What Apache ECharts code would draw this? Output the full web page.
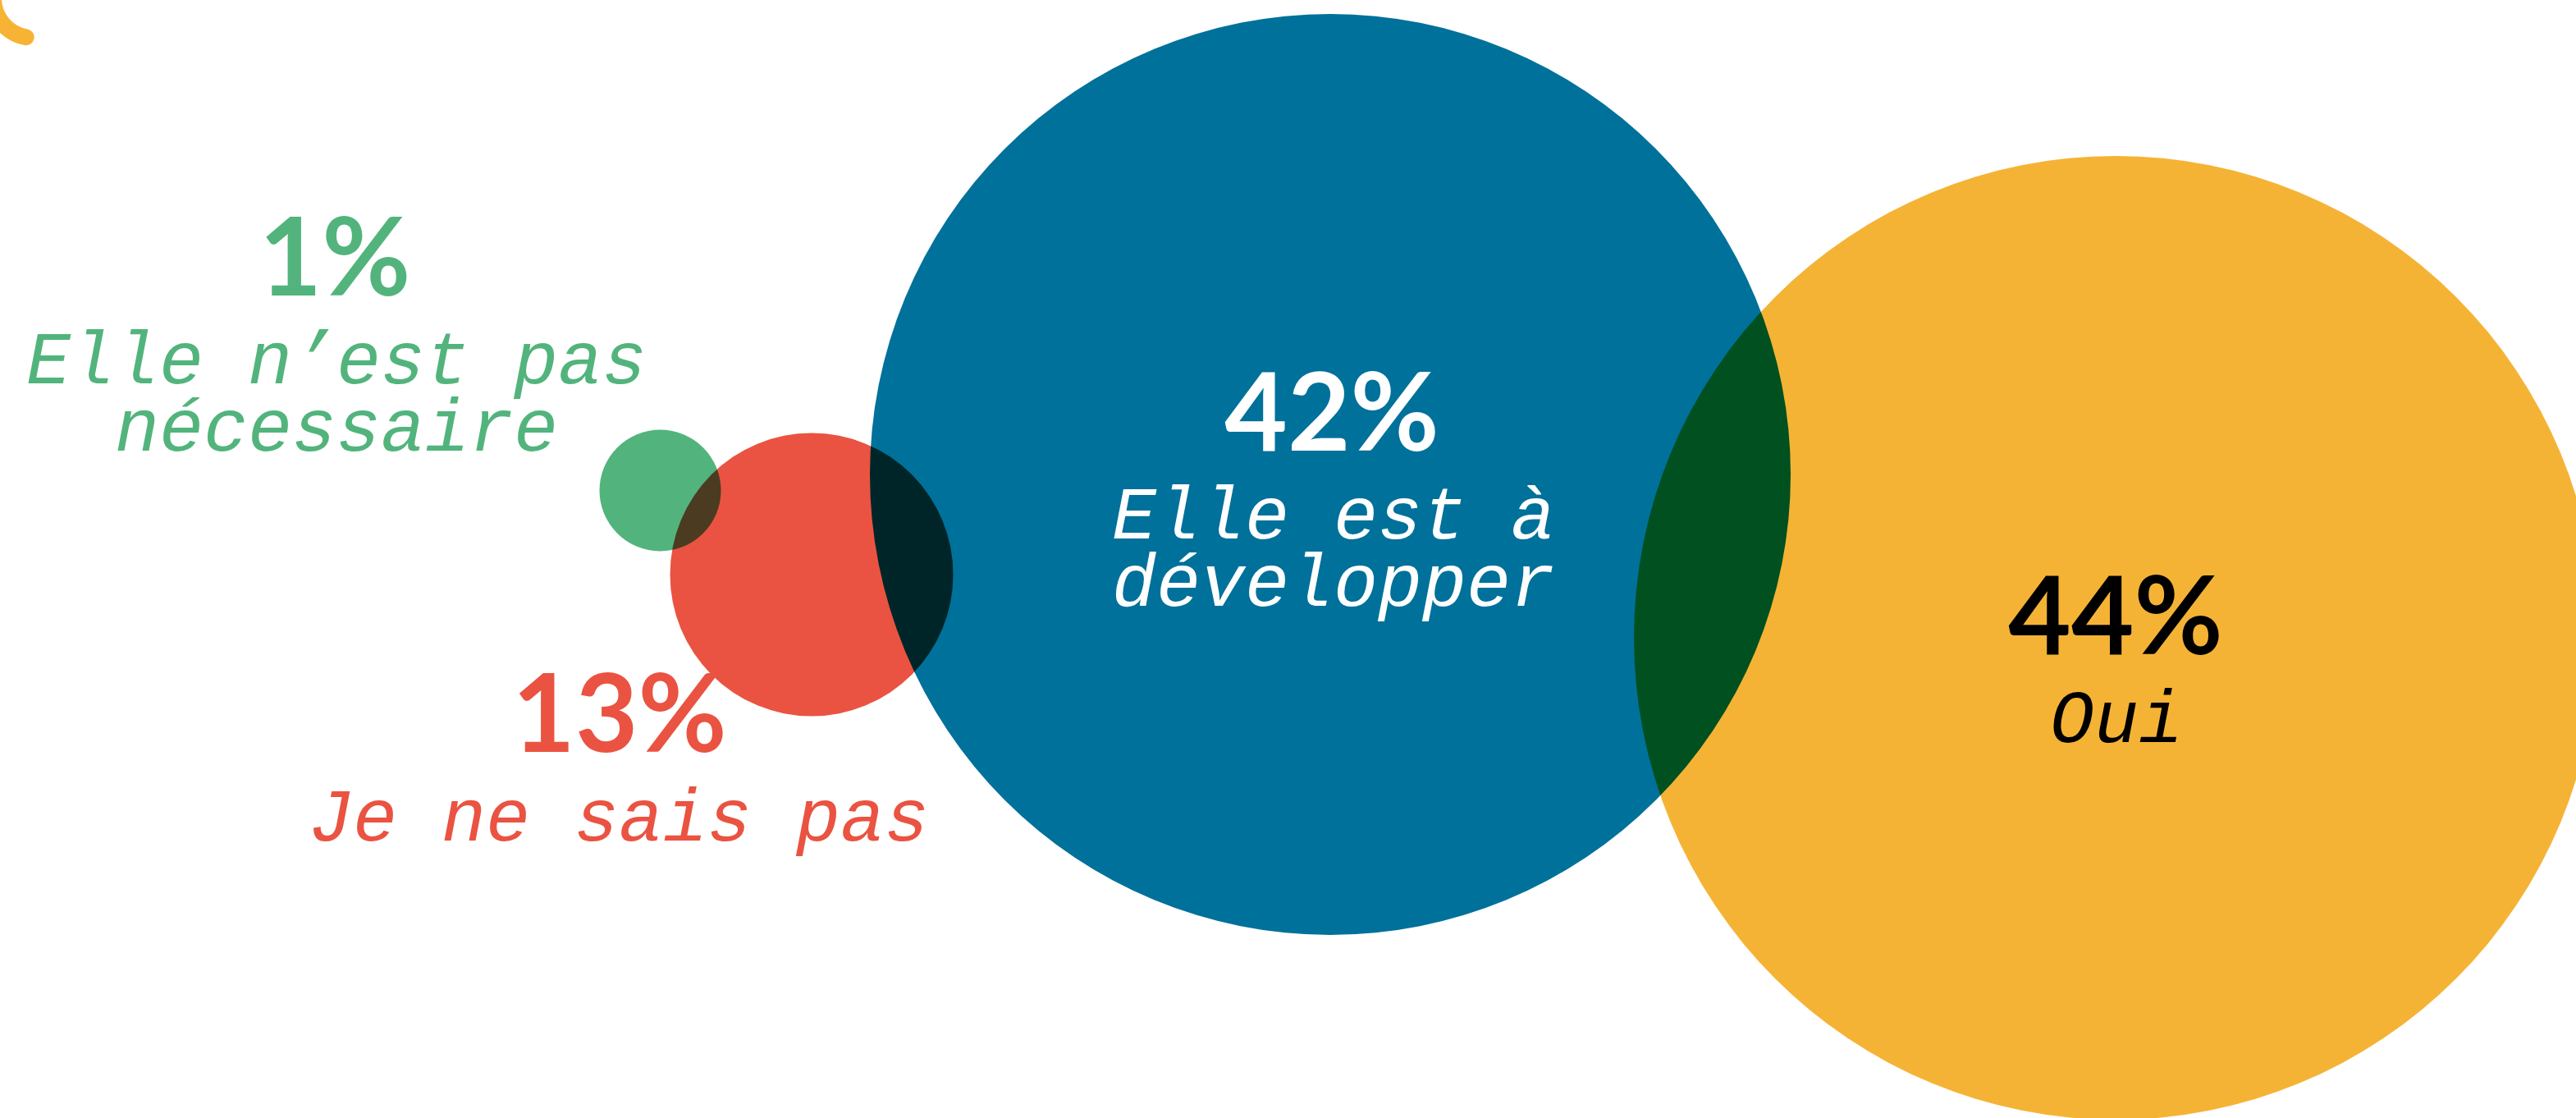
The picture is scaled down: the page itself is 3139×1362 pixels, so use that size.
<!DOCTYPE html>
<html>
<head>
<meta charset="utf-8">
<script src="https://cdn.jsdelivr.net/npm/echarts@6/dist/echarts.min.js"></script>
<style>
  html, body { margin: 0; padding: 0; background: #ffffff; }
  #chart { width: 3139px; height: 1362px; }
</style>
</head>
<body>
<div id="chart"></div>
<script>
// ---- data ----
const categories = ['Elle n’est pas nécessaire', 'Je ne sais pas', 'Elle est à développer', 'Oui'];
const values = [1, 13, 42, 44];
const captionLines = [
  ['Elle n’est pas', 'nécessaire'],
  ['Je ne sais pas'],
  ['Elle est à', 'développer'],
  ['Oui']
];

// ---- layout (positions / sizes / styles, kept apart from data) ----
const circleCenters = [[804.5, 597.5], [989, 700], [1621, 578], [2578, 777]];
const circleRadii = [74, 172.5, 561, 587];
const pctAnchors = [[408, 317], [755, 873], [1623, 506], [2578, 754]];
const captionAnchors = [[410, 484], [754, 1000], [1625, 673], [2579, 880]];
const circleColors = ['#52b47c', '#ea5341', '#00719a', '#f5b335'];
const textColors = ['#52b47c', '#ea5341', '#ffffff', '#000000'];

const W = 3139, H = 1362;

const circleData = categories.map((c, i) => ({
  name: c,
  value: [circleCenters[i][0], circleCenters[i][1], values[i]],
  symbolSize: circleRadii[i] * 2,
  itemStyle: { color: circleColors[i], opacity: 1 }
}));

const pctData = categories.map((c, i) => ({
  name: c,
  value: [pctAnchors[i][0], pctAnchors[i][1], values[i]],
  label: { color: textColors[i] }
}));

const captionData = categories.map((c, i) => ({
  name: c,
  value: [captionAnchors[i][0], captionAnchors[i][1], values[i]],
  label: { color: textColors[i] }
}));

const chart = echarts.init(document.getElementById('chart'), null, { renderer: 'canvas' });
chart.setOption({
  backgroundColor: '#ffffff',
  animation: false,
  grid: { left: 0, right: 0, top: 0, bottom: 0 },
  xAxis: { type: 'value', min: 0, max: W, show: false },
  yAxis: { type: 'value', min: 0, max: H, inverse: true, show: false },
  graphic: [{
    type: 'arc',
    shape: { cx: 40, cy: -2, r: 48, startAngle: Math.PI * 100 / 180, endAngle: Math.PI, clockwise: true },
    style: { stroke: '#f6b334', lineWidth: 20, lineCap: 'round', fill: null },
    silent: true
  }],
  series: [
    {
      type: 'scatter',
      name: 'circles',
      blendMode: 'multiply',
      symbol: 'circle',
      itemStyle: { opacity: 1 },
      data: circleData,
      silent: true,
      z: 1
    },
    {
      type: 'scatter',
      name: 'pct',
      symbolSize: 0,
      itemStyle: { opacity: 1 },
      data: pctData,
      silent: true,
      z: 5,
      label: {
        show: true,
        position: 'inside',
        opacity: 1,
        formatter: p => p.value[2] + '%',
        fontFamily: 'Lato',
        fontWeight: 'bold',
        fontSize: 132
      }
    },
    {
      type: 'scatter',
      name: 'captions',
      symbolSize: 0,
      itemStyle: { opacity: 1 },
      data: captionData,
      silent: true,
      z: 5,
      label: {
        show: true,
        position: 'inside',
        opacity: 1,
        formatter: p => captionLines[p.dataIndex].join('\n'),
        fontFamily: 'Liberation Mono',
        fontStyle: 'italic',
        fontSize: 90,
        lineHeight: 82,
        align: 'center'
      }
    }
  ]
});
</script>
</body>
</html>
